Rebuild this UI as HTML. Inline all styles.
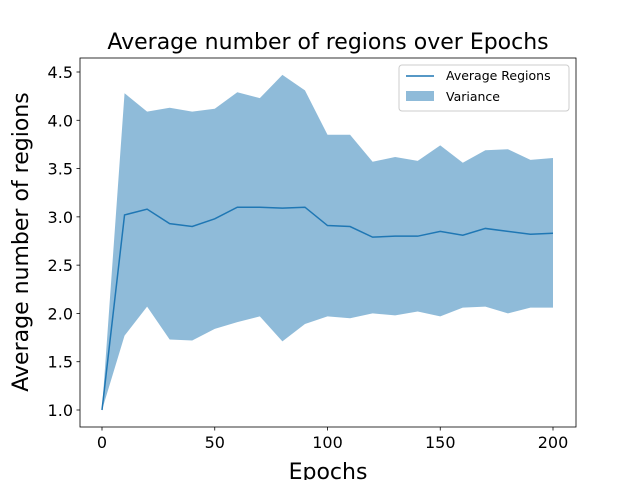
<!DOCTYPE html>
<html><head><meta charset="utf-8"><style>
body{margin:0;background:#fff;}
svg text{font-family:"DejaVu Sans","Liberation Sans",sans-serif;}
</style></head><body>
<svg id="chart" width="640" height="480" xmlns="http://www.w3.org/2000/svg"></svg>
<script>
const epochs=[0,10,20,30,40,50,60,70,80,90,100,110,120,130,140,150,160,170,180,190,200];
const meanVals=[1.0,3.02,3.08,2.93,2.90,2.98,3.10,3.10,3.09,3.10,2.91,2.90,2.79,2.80,2.80,2.85,2.81,2.88,2.85,2.82,2.83];
const upperVals=[1.0,4.28,4.09,4.13,4.09,4.12,4.29,4.23,4.47,4.31,3.85,3.85,3.57,3.62,3.58,3.74,3.56,3.69,3.70,3.59,3.61];
const lowerVals=[1.0,1.77,2.07,1.73,1.72,1.84,1.91,1.97,1.71,1.89,1.97,1.95,2.00,1.98,2.02,1.97,2.06,2.07,2.00,2.06,2.06];
const xTicks=[0,50,100,150,200];
const yTicks=[1.0,1.5,2.0,2.5,3.0,3.5,4.0,4.5];

const svg=document.getElementById('chart');
const NS='http://www.w3.org/2000/svg';
const L=80,R=576,T=58,B=427;
const xs=v=>102+(v-0)*(553-102)/200;
const ys=v=>410-(v-1)*(410-72)/3.5;
function mk(tag,attrs,txt){const e=document.createElementNS(NS,tag);for(const k in attrs)e.setAttribute(k,attrs[k]);if(txt!==undefined)e.textContent=txt;svg.appendChild(e);return e;}

let d='M'+epochs.map((e,i)=>xs(e)+','+ys(upperVals[i])).join('L');
for(let i=epochs.length-1;i>=0;i--)d+='L'+xs(epochs[i])+','+ys(lowerVals[i]);
d+='Z';
const band=mk('path',{d:d,fill:'#1f77b4','fill-opacity':'0.5',stroke:'none'});


const line=mk('path',{d:'M'+epochs.map((e,i)=>xs(e)+','+ys(meanVals[i])).join('L'),fill:'none',stroke:'#1f77b4','stroke-width':1.5});



const frame=mk('rect',{x:L,y:T,width:R-L,height:B-T,fill:'none',stroke:'#000','stroke-width':0.8});



xTicks.forEach(t=>{
  const tk=mk('line',{x1:xs(t),x2:xs(t),y1:B,y2:B+3.5,stroke:'#000','stroke-width':0.8});
  
  
  const lb=mk('text',{x:xs(t),y:B+21,'font-size':16,'text-anchor':'middle'},String(t));
  
  
});
yTicks.forEach(t=>{
  const tk=mk('line',{x1:L-3.5,x2:L,y1:ys(t),y2:ys(t),stroke:'#000','stroke-width':0.8});
  
  
  const lb=mk('text',{x:L-7,y:ys(t)+6,'font-size':16,'text-anchor':'end'},t.toFixed(1));
  
  
});

const title=mk('text',{x:328,y:49,'font-size':22,'text-anchor':'middle'},'Average number of regions over Epochs');


const xt=mk('text',{x:328,y:479,'font-size':22,'text-anchor':'middle'},'Epochs');


const yt=mk('text',{x:0,y:0,'font-size':22,'text-anchor':'middle',transform:'translate(28,242) rotate(-90)'},'Average number of regions');



const lg=mk('rect',{x:399,y:65,width:170,height:46,rx:3,fill:'#fff','fill-opacity':0.8,stroke:'#ccc'});


const l1=mk('line',{x1:406,x2:434,y1:76,y2:76,stroke:'#1f77b4','stroke-width':1.5});


const t1=mk('text',{x:446,y:80,'font-size':12.5},'Average Regions');


const s2=mk('rect',{x:406,y:91,width:28,height:10,fill:'#1f77b4','fill-opacity':0.5});


const t2=mk('text',{x:446,y:101,'font-size':12.5},'Variance');


</script>
</body></html>
